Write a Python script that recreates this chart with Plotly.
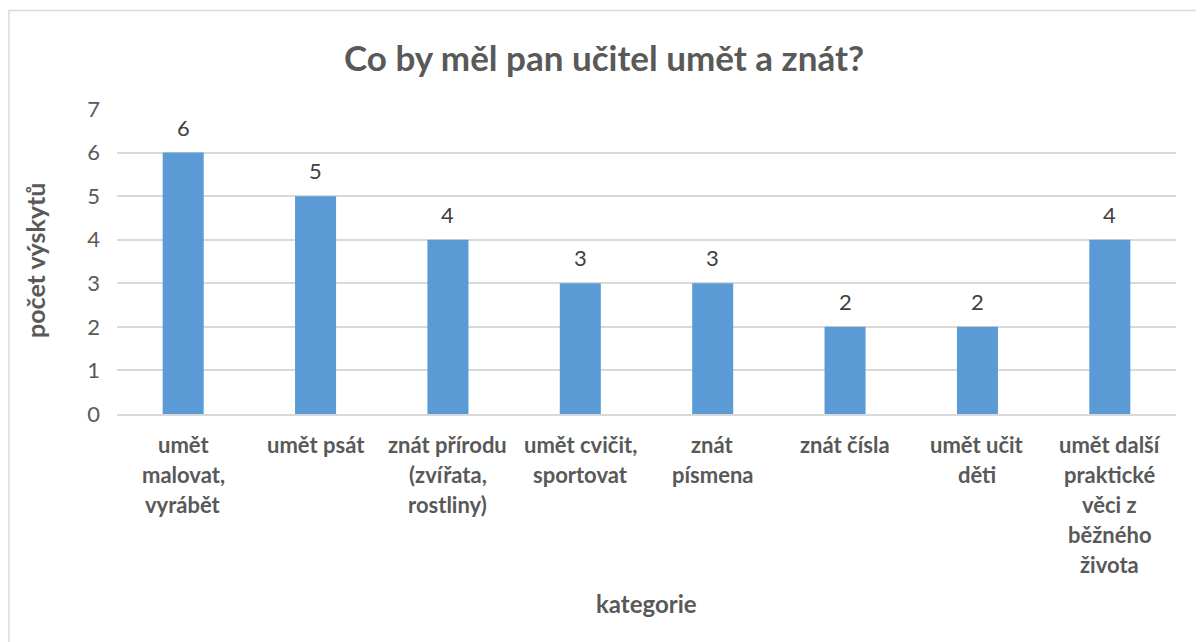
import plotly.graph_objects as go

categories = ["umět malovat, vyrábět", "umět psát", "znát přírodu (zvířata, rostliny)",
              "umět cvičit, sportovat", "znát písmena", "znát čísla", "umět učit děti",
              "umět další praktické věci z běžného života"]
label_lines = [["umět", "malovat,", "vyrábět"], ["umět psát"], ["znát přírodu", "(zvířata,", "rostliny)"],
               ["umět cvičit,", "sportovat"], ["znát", "písmena"], ["znát čísla"], ["umět učit", "děti"],
               ["umět další", "praktické", "věci z", "běžného", "života"]]
values = [6, 5, 4, 3, 3, 2, 2, 4]
y_ticks = [0, 1, 2, 3, 4, 5, 6, 7]

FONT = "Lato, Carlito, Calibri, sans-serif"
GREY = "#595959"

OFF = 8  # page body margin
W, H = 1204, 642
L, T = 117 - OFF, 109 - OFF
R = W - (1176 - OFF)
B = H - (414 - OFF)
pw, ph = W - L - R, H - T - B


def py(y_px):
    return (H - B - (y_px - OFF)) / ph


def px(x_px):
    return ((x_px - OFF) - L) / pw


fig = go.Figure(go.Bar(x=categories, y=values, marker=dict(color="#5B9BD5", line=dict(width=0)),
                       hoverinfo="x+y"))

annotations = []
for c, v in zip(categories, values):
    annotations.append(dict(x=c, y=v, xref="x", yref="y", text=str(v), showarrow=False,
                            yanchor="bottom", yshift=10, font=dict(family=FONT, size=22, color="#404040")))
for c, lines in zip(categories, label_lines):
    for i, ln in enumerate(lines):
        annotations.append(dict(x=c, y=0, xref="x", yref="paper", text="<b>%s</b>" % ln, showarrow=False,
                                yanchor="middle", yshift=-(30 + 30 * i),
                                font=dict(family=FONT, size=22, color=GREY)))
annotations.append(dict(x=px(604), y=py(57), xref="paper", yref="paper", text="<b>Co by měl pan učitel umět a znát?</b>",
                        showarrow=False, xanchor="center", yanchor="middle",
                        font=dict(family=FONT, size=35, color=GREY)))
annotations.append(dict(x=px(646), y=py(603), xref="paper", yref="paper", text="<b>kategorie</b>",
                        showarrow=False, xanchor="center", yanchor="middle",
                        font=dict(family=FONT, size=24, color=GREY)))
annotations.append(dict(x=px(35), y=py(261), xref="paper", yref="paper", text="<b>počet výskytů</b>",
                        showarrow=False, xanchor="center", yanchor="middle", textangle=-90,
                        font=dict(family=FONT, size=25, color=GREY)))

fig.update_layout(
    width=W, height=H, autosize=False,
    margin=dict(l=L, r=R, t=T, b=B),
    paper_bgcolor="white", plot_bgcolor="white",
    showlegend=False, bargap=0.69,
    annotations=annotations,
    shapes=[dict(type="rect", xref="paper", yref="paper",
                 x0=px(9), x1=px(1225), y0=py(670), y1=py(10.5),
                 line=dict(color="#D9D9D9", width=1.5), fillcolor="rgba(0,0,0,0)", layer="below")],
    xaxis=dict(showticklabels=False, showgrid=False, zeroline=False, showline=True,
               linecolor="#D9D9D9", linewidth=2, ticks="", fixedrange=True),
    yaxis=dict(range=[0, 7], tickvals=y_ticks, showgrid=True, gridcolor="#D9D9D9", gridwidth=1.5,
               zeroline=False, showline=False, ticks="", ticklabelstandoff=16,
               tickfont=dict(family=FONT, size=22, color=GREY), fixedrange=True),
)

fig.write_html("out.html")
